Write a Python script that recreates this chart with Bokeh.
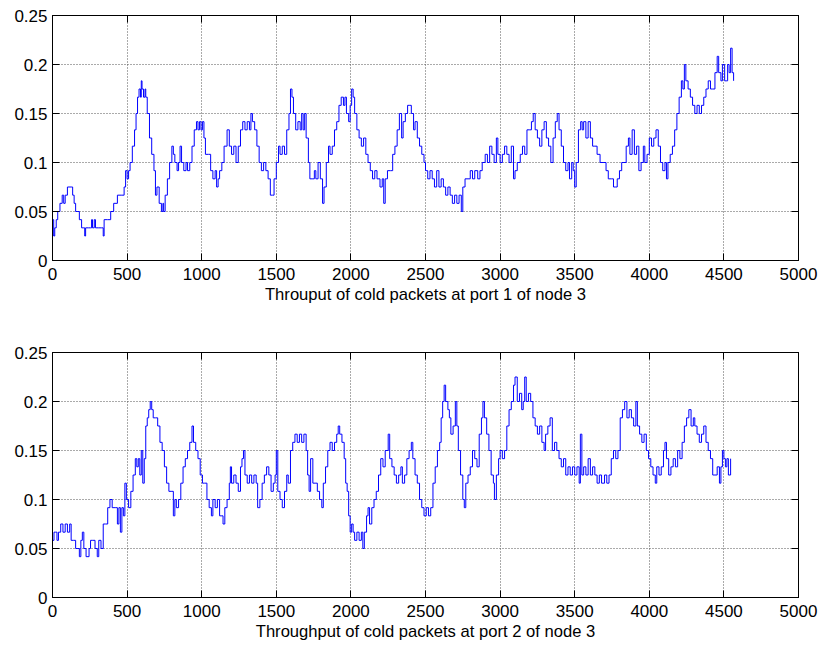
from bokeh.plotting import figure
from bokeh.layouts import column
from bokeh.models import FixedTicker, LinearAxis
from bokeh.embed import file_html
from bokeh.resources import INLINE

# Throughput values are stored as packet counts in a window of 120 slots
WINDOW = 120.0

top_x = [0, 8, 15, 25, 35, 50, 65, 75, 85, 100, 125, 135, 145, 155, 170, 180, 195, 210, 216, 222,
         240, 255, 262, 268, 280, 288, 310, 330, 340, 346, 370, 390, 410, 435, 460, 480, 490, 500, 510, 520,
         535, 550, 560, 570, 580, 590, 595, 600, 610, 620, 625, 635, 650, 665, 680, 690, 700, 715, 730, 740,
         745, 755, 770, 785, 800, 810, 820, 835, 845, 855, 865, 880, 895, 905, 920, 935, 950, 965, 975, 985,
         995, 1005, 1015, 1025, 1045, 1060, 1075, 1090, 1100, 1110, 1120, 1135, 1150, 1170, 1185, 1200, 1215, 1230, 1245, 1260,
         1275, 1290, 1305, 1320, 1330, 1340, 1355, 1370, 1385, 1400, 1415, 1430, 1445, 1460, 1475, 1485, 1500, 1515, 1525, 1540,
         1555, 1570, 1585, 1595, 1605, 1615, 1630, 1645, 1660, 1670, 1680, 1690, 1700, 1715, 1725, 1740, 1755, 1765, 1780, 1795,
         1810, 1820, 1835, 1850, 1860, 1875, 1890, 1905, 1920, 1935, 1950, 1960, 1970, 1985, 1995, 2005, 2015, 2025, 2040, 2055,
         2070, 2085, 2100, 2115, 2130, 2145, 2160, 2175, 2195, 2210, 2220, 2230, 2245, 2265, 2280, 2295, 2310, 2325, 2340, 2350,
         2365, 2380, 2395, 2405, 2420, 2430, 2445, 2460, 2475, 2490, 2500, 2515, 2530, 2545, 2560, 2575, 2590, 2605, 2620, 2635,
         2650, 2665, 2680, 2695, 2710, 2725, 2740, 2750, 2765, 2785, 2800, 2815, 2830, 2850, 2865, 2880, 2900, 2915, 2930, 2945,
         2960, 2975, 2985, 3000, 3015, 3030, 3045, 3060, 3075, 3090, 3100, 3115, 3135, 3150, 3165, 3180, 3195, 3210, 3222, 3235,
         3250, 3265, 3280, 3295, 3310, 3325, 3340, 3355, 3370, 3383, 3395, 3410, 3425, 3440, 3455, 3465, 3480, 3490, 3500, 3510,
         3525, 3540, 3550, 3560, 3575, 3590, 3605, 3620, 3635, 3650, 3670, 3690, 3710, 3725, 3745, 3760, 3775, 3785, 3800, 3815,
         3830, 3845, 3860, 3870, 3885, 3900, 3915, 3930, 3945, 3960, 3970, 3985, 4000, 4015, 4030, 4045, 4060, 4075, 4090, 4105,
         4115, 4125, 4140, 4155, 4170, 4185, 4200, 4215, 4225, 4235, 4245, 4260, 4275, 4290, 4305, 4320, 4335, 4350, 4365, 4380,
         4395, 4410, 4425, 4440, 4455, 4465, 4480, 4490, 4505, 4515, 4525, 4535, 4545, 4555, 4565]
top_counts = [5, 3, 4, 5, 6, 7, 8, 7, 8, 9, 9, 8, 7, 6, 6, 5, 4, 4, 3, 4,
              4, 4, 5, 4, 5, 4, 4, 4, 3, 5, 5, 6, 7, 8, 8, 9, 11, 10, 11, 12,
              14, 16, 18, 20, 21, 20, 22, 21, 20, 21, 20, 18, 15, 13, 11, 8, 9, 7, 6, 7,
              6, 8, 10, 12, 14, 13, 12, 11, 12, 14, 12, 11, 12, 11, 12, 14, 16, 17, 16, 17,
              16, 17, 15, 13, 13, 11, 10, 11, 9, 10, 11, 12, 14, 16, 14, 13, 14, 12, 14, 16,
              17, 16, 17, 16, 18, 17, 16, 14, 12, 11, 12, 11, 10, 8, 8, 10, 12, 14, 13, 14,
              13, 16, 18, 21, 20, 18, 16, 17, 16, 18, 16, 18, 15, 12, 10, 10, 11, 10, 12, 10,
              7, 9, 12, 14, 13, 14, 16, 17, 19, 20, 19, 20, 18, 17, 19, 21, 20, 18, 16, 15,
              14, 15, 13, 12, 11, 10, 11, 10, 9, 10, 7, 10, 11, 11, 13, 14, 16, 18, 15, 17,
              18, 19, 19, 18, 16, 17, 15, 14, 13, 12, 11, 10, 11, 10, 9, 11, 9, 10, 9, 8,
              9, 8, 7, 8, 7, 8, 6, 9, 10, 10, 11, 10, 11, 10, 11, 12, 13, 12, 14, 13,
              12, 15, 13, 12, 13, 14, 13, 12, 14, 10, 11, 12, 13, 14, 13, 16, 16, 17, 18, 16,
              15, 14, 16, 17, 15, 14, 12, 15, 17, 18, 16, 14, 12, 11, 12, 10, 12, 11, 9, 12,
              16, 17, 16, 17, 15, 17, 15, 14, 14, 13, 12, 12, 11, 10, 10, 9, 9, 10, 11, 12,
              12, 14, 15, 13, 16, 13, 14, 11, 12, 14, 12, 13, 15, 14, 15, 16, 14, 12, 11, 12,
              10, 12, 13, 14, 16, 18, 20, 22, 21, 24, 22, 21, 20, 19, 18, 19, 18, 19, 20, 21,
              22, 21, 21, 23, 25, 23, 22, 24, 22, 22, 24, 23, 26, 23, 22]

bot_x = [0, 10, 20, 30, 40, 55, 70, 85, 100, 115, 125, 140, 155, 170, 180, 190, 200, 210, 225, 245,
         255, 270, 285, 300, 310, 325, 340, 355, 370, 385, 400, 420, 435, 445, 455, 465, 475, 485, 495, 510,
         525, 540, 555, 565, 575, 585, 595, 605, 615, 625, 635, 645, 655, 665, 675, 690, 705, 720, 735, 750,
         765, 780, 795, 810, 820, 830, 845, 860, 875, 890, 905, 920, 935, 945, 960, 975, 990, 1005, 1020, 1035,
         1050, 1065, 1075, 1090, 1105, 1120, 1135, 1143, 1155, 1170, 1185, 1192, 1200, 1215, 1230, 1245, 1260, 1270, 1280, 1290,
         1305, 1320, 1335, 1350, 1365, 1375, 1390, 1405, 1420, 1435, 1450, 1465, 1480, 1492, 1500, 1510, 1525, 1540, 1555, 1570,
         1580, 1595, 1610, 1625, 1640, 1655, 1670, 1685, 1700, 1710, 1720, 1730, 1745, 1760, 1775, 1790, 1805, 1815, 1830, 1845,
         1860, 1875, 1890, 1905, 1915, 1925, 1940, 1955, 1965, 1975, 1985, 1995, 2005, 2015, 2025, 2040, 2055, 2070, 2080, 2090,
         2105, 2115, 2125, 2140, 2155, 2170, 2185, 2200, 2215, 2230, 2250, 2260, 2275, 2290, 2305, 2320, 2335, 2345, 2360, 2375,
         2390, 2405, 2415, 2430, 2445, 2460, 2475, 2490, 2505, 2520, 2535, 2550, 2565, 2580, 2595, 2605, 2615, 2625, 2635, 2650,
         2660, 2670, 2685, 2700, 2710, 2720, 2735, 2750, 2760, 2770, 2785, 2800, 2815, 2830, 2845, 2860, 2875, 2885, 2895, 2910,
         2925, 2940, 2955, 2962, 2975, 2990, 3000, 3015, 3030, 3045, 3060, 3075, 3090, 3100, 3115, 3130, 3145, 3155, 3165, 3175,
         3190, 3205, 3220, 3235, 3250, 3265, 3280, 3295, 3305, 3320, 3335, 3350, 3365, 3380, 3395, 3410, 3425, 3440, 3455, 3470,
         3485, 3500, 3515, 3530, 3538, 3548, 3560, 3575, 3590, 3605, 3620, 3635, 3650, 3665, 3680, 3700, 3715, 3730, 3745, 3760,
         3775, 3790, 3805, 3820, 3835, 3850, 3865, 3880, 3895, 3910, 3920, 3935, 3950, 3965, 3980, 3995, 4010, 4025, 4040, 4050,
         4065, 4080, 4095, 4105, 4115, 4130, 4145, 4160, 4175, 4190, 4205, 4220, 4235, 4250, 4265, 4280, 4295, 4305, 4320, 4335,
         4350, 4365, 4380, 4395, 4410, 4425, 4440, 4455, 4470, 4480, 4490, 4500, 4510, 4520, 4530, 4545]
bot_counts = [7, 8, 8, 7, 8, 9, 8, 9, 8, 9, 7, 7, 6, 6, 5, 7, 8, 6, 5, 6,
              7, 7, 6, 5, 7, 6, 9, 9, 11, 12, 11, 11, 9, 11, 8, 11, 10, 14, 12, 11,
              13, 15, 17, 16, 17, 15, 18, 14, 17, 21, 22, 23, 24, 23, 22, 22, 21, 19, 18, 16,
              14, 13, 13, 10, 12, 11, 12, 14, 16, 17, 18, 19, 21, 19, 18, 17, 15, 14, 14, 12,
              11, 10, 12, 11, 12, 10, 10, 9, 11, 12, 14, 16, 14, 15, 14, 13, 16, 17, 18, 15,
              14, 15, 14, 15, 14, 11, 12, 14, 15, 16, 15, 13, 14, 15, 18, 13, 12, 11, 13, 15,
              14, 18, 19, 20, 19, 20, 19, 20, 18, 15, 13, 17, 14, 14, 13, 12, 11, 14, 16, 18,
              19, 18, 19, 20, 21, 20, 19, 17, 14, 13, 10, 8, 9, 8, 7, 8, 7, 8, 6, 8,
              10, 11, 9, 11, 12, 13, 15, 17, 16, 18, 20, 17, 16, 15, 14, 15, 16, 14, 15, 17,
              18, 19, 17, 15, 14, 12, 11, 10, 11, 10, 11, 14, 16, 18, 19, 22, 24, 26, 24, 23,
              22, 20, 21, 24, 21, 18, 15, 12, 11, 14, 15, 16, 18, 17, 16, 20, 22, 24, 22, 20,
              18, 15, 14, 12, 15, 17, 18, 17, 18, 21, 23, 24, 26, 27, 24, 25, 23, 24, 27, 24,
              25, 24, 22, 21, 20, 21, 19, 18, 20, 21, 22, 18, 19, 18, 17, 16, 17, 15, 16, 15,
              16, 15, 16, 14, 20, 15, 16, 15, 17, 15, 16, 15, 14, 15, 14, 15, 14, 15, 17, 18,
              17, 18, 22, 23, 24, 22, 23, 22, 21, 24, 21, 20, 19, 20, 18, 17, 16, 15, 14, 16,
              15, 16, 18, 19, 17, 15, 16, 17, 16, 18, 17, 19, 21, 22, 23, 21, 22, 21, 20, 19,
              20, 21, 19, 18, 17, 15, 15, 16, 14, 16, 18, 17, 16, 17, 15, 17]

x_ticks = [0, 500, 1000, 1500, 2000, 2500, 3000, 3500, 4000, 4500, 5000]
y_ticks = [0, 0.05, 0.1, 0.15, 0.2, 0.25]
y_tick_labels = {0: "0", 0.05: "0.05", 0.1: "0.1", 0.15: "0.15", 0.2: "0.2", 0.25: "0.25"}

titles = ["Throuput of cold packets at port 1 of node 3",
          "Throughput of cold packets at port 2 of node 3"]

FONT = "Liberation Sans"


def tick_only_axis(ticks):
    ax = LinearAxis(ticker=FixedTicker(ticks=ticks))
    ax.major_label_overrides = {t: "" for t in ticks}
    ax.major_label_standoff = 0
    ax.major_tick_in = 7
    ax.major_tick_out = 0
    ax.minor_tick_line_color = None
    ax.axis_line_color = "black"
    return ax


def make_panel(xs, counts, label, height, border_top, border_bottom):
    p = figure(width=820, height=height, output_backend="svg", toolbar_location=None,
               x_range=(0, 5000), y_range=(0, 0.25),
               min_border_left=52, min_border_right=22,
               min_border_top=border_top, min_border_bottom=border_bottom)
    ys = [c / WINDOW for c in counts]
    p.step(xs, ys, mode="after", line_color="#0000ff", line_width=1)
    p.outline_line_color = "black"
    p.outline_line_width = 1
    p.outline_line_alpha = 1
    p.background_fill_color = "white"
    p.border_fill_color = "white"
    p.xaxis.ticker = FixedTicker(ticks=x_ticks)
    p.yaxis.ticker = FixedTicker(ticks=y_ticks)
    p.yaxis.major_label_overrides = y_tick_labels
    for ax in (p.xaxis, p.yaxis):
        ax.axis_line_color = "black"
        ax.major_tick_in = 7
        ax.major_tick_out = 0
        ax.minor_tick_line_color = None
        ax.major_label_text_font = FONT
        ax.major_label_text_font_size = "17px"
        ax.major_label_text_color = "black"
    p.xaxis.major_label_standoff = 7
    p.yaxis.major_label_standoff = 5
    p.xaxis.axis_label = label
    p.xaxis.axis_label_text_font = FONT
    p.xaxis.axis_label_text_font_size = "16.6px"
    p.xaxis.axis_label_text_font_style = "normal"
    p.xaxis.axis_label_text_color = "black"
    p.xaxis.axis_label_standoff = 2
    p.add_layout(tick_only_axis(x_ticks), "above")
    p.add_layout(tick_only_axis(y_ticks), "right")
    for g in (p.xgrid, p.ygrid):
        g.grid_line_color = "#555555"
        g.grid_line_dash = "1 2"
        g.grid_line_width = 1
    p.xgrid.ticker = FixedTicker(ticks=x_ticks)
    p.ygrid.ticker = FixedTicker(ticks=y_ticks)
    return p


p1 = make_panel(top_x, top_counts, titles[0], 306, 15, 46)
p2 = make_panel(bot_x, bot_counts, titles[1], 337, 46, 46)
layout = column(p1, p2, spacing=0)

open("out.html", "w").write(file_html(layout, INLINE))
